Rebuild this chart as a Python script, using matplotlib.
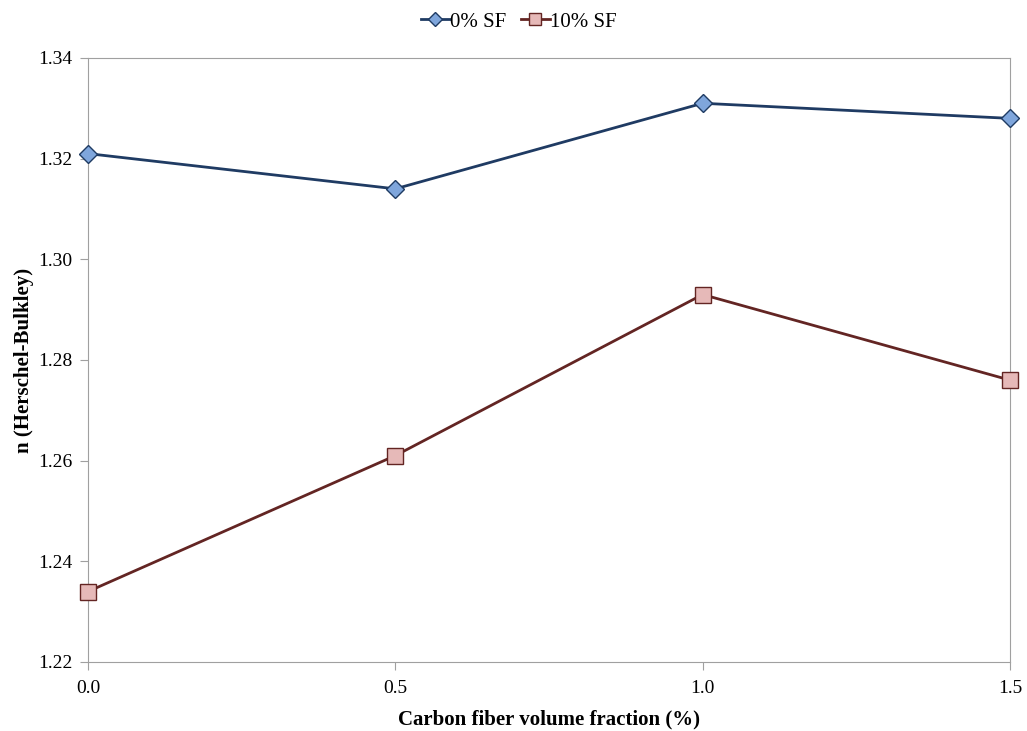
import numpy as np
import matplotlib.pyplot as plt

plt.rcParams['font.family'] = ['Liberation Serif', 'DejaVu Serif']

fiber = [0.0, 0.5, 1.0, 1.5]
n_0sf = [1.321, 1.314, 1.331, 1.328]
n_10sf = [1.234, 1.261, 1.293, 1.276]

fig = plt.figure(figsize=(10.27, 7.31), dpi=100)
ax = fig.add_axes([0.0857, 0.0944, 0.8977, 0.8263])

ax.plot(fiber, n_0sf, color='#1F3B63', linewidth=2, marker='D', markersize=9,
        markerfacecolor='#7FA6DC', markeredgecolor='#1F3B63', markeredgewidth=1,
        label='0% SF', clip_on=False, zorder=3)
ax.plot(fiber, n_10sf, color='#632523', linewidth=2, marker='s', markersize=11,
        markerfacecolor='#E6B9B8', markeredgecolor='#632523', markeredgewidth=1,
        label='10% SF', clip_on=False, zorder=3)

ax.set_xlim(0, 1.5)
ax.set_ylim(1.22, 1.34)
ax.set_xticks([0.0, 0.5, 1.0, 1.5])
ax.set_xticklabels(['0.0', '0.5', '1.0', '1.5'])
ax.set_yticks(np.arange(1.22, 1.3401, 0.02))
ax.set_yticklabels(['%.2f' % v for v in np.arange(1.22, 1.3401, 0.02)])

for s in ax.spines.values():
    s.set_color('#A0A0A0')
ax.tick_params(axis='both', colors='#A0A0A0', labelcolor='black', labelsize=14,
               length=6, direction='out')
ax.tick_params(axis='y', pad=5)
ax.tick_params(axis='x', pad=7)

ax.set_xlabel('Carbon fiber volume fraction (%)', fontsize=15, fontweight='bold', labelpad=9)
ax.set_ylabel('n (Herschel-Bulkley)', fontsize=15, fontweight='bold', labelpad=3)

h, l = ax.get_legend_handles_labels()
fig.legend(h, l, loc='center', bbox_to_anchor=(0.505, 0.97), ncol=2, frameon=False,
           fontsize=15, handlelength=1.4, handletextpad=0.0, columnspacing=0.7,
           markerscale=0.8)

fig.savefig('out.png', dpi=100)
